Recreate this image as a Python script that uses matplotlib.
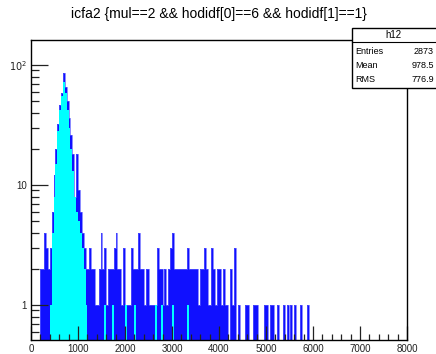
import numpy as np
import matplotlib
matplotlib.use('Agg')
import matplotlib.pyplot as plt
from matplotlib.patches import Rectangle
from matplotlib.ticker import FixedLocator, NullFormatter

plt.rcParams['font.family'] = ['Liberation Sans', 'DejaVu Sans']

# h12: 200 bins of width 40 over [0, 8000)
bin_width = 40
n_bins = 200

# counts for all entries (bins 0..149, rest empty)
blue_counts = [
    0, 0, 0, 0, 0, 2, 2, 4, 3, 2,
    3, 6, 12, 20, 32, 46, 58, 86, 66, 50,
    36, 26, 18, 8, 18, 9, 6, 4, 3, 2,
    2, 3, 2, 2, 1, 1, 2, 4, 2, 3,
    1, 2, 2, 2, 3, 4, 2, 2, 1, 3,
    1, 1, 1, 3, 2, 2, 2, 4, 2, 2,
    1, 2, 2, 1, 1, 1, 1, 3, 2, 2,
    1, 2, 1, 2, 3, 4, 2, 2, 2, 2,
    2, 2, 2, 3, 2, 2, 2, 2, 2, 1,
    2, 2, 3, 2, 1, 1, 3, 2, 1, 2,
    2, 1, 2, 1, 1, 0, 2, 1, 3, 0,
    1, 0, 0, 0, 1, 1, 0, 0, 1, 1,
    1, 0, 0, 0, 1, 1, 0, 1, 1, 0,
    0, 1, 0, 0, 1, 0, 1, 0, 1, 0,
    1, 0, 0, 1, 0, 0, 0, 1, 0, 0,
]

# counts passing the cut (bins 0..83)
cyan_counts = [
    0, 0, 0, 0, 0, 0, 0, 0, 0, 0,
    1, 4, 8, 15, 28, 42, 55, 72, 58, 42,
    30, 20, 13, 8, 6, 5, 4, 3, 2, 1,
    0, 0, 0, 0, 0, 0, 0, 0, 0, 1,
    0, 0, 0, 1, 0, 0, 0, 0, 0, 0,
    1, 0, 0, 0, 0, 1, 0, 0, 0, 0,
    0, 0, 0, 0, 0, 0, 1, 0, 0, 1,
    0, 0, 0, 0, 0, 1, 0, 0, 0, 0,
    0, 0, 0, 1,
]

stat_labels = ['Entries', 'Mean', 'RMS']
stat_values = ['2873', '978.5', '776.9']

blue = np.zeros(n_bins)
blue[:len(blue_counts)] = blue_counts
cyan = np.zeros(n_bins)
cyan[:len(cyan_counts)] = cyan_counts
edges = np.arange(n_bins + 1) * bin_width

W, H = 436, 354
fig = plt.figure(figsize=(W / 100, H / 100), dpi=100)
ax = fig.add_axes([31 / W, 1 - 340 / H, (407 - 31) / W, (340 - 40) / H])

ax.set_yscale('log')
ax.stairs(blue, edges, fill=True, baseline=0.1, color='#1010ff')
ax.stairs(blue, edges, baseline=0.1, color='#5a5aff', linewidth=0.5)
ax.stairs(cyan, edges, fill=True, baseline=0.1, color='#00ffff')

ax.set_xlim(0, 8000)
ax.set_ylim(0.511, 161.5)

ax.xaxis.set_major_locator(FixedLocator(np.arange(0, 8001, 1000)))
ax.xaxis.set_minor_locator(FixedLocator(np.arange(0, 8001, 200)))
ax.yaxis.set_major_locator(FixedLocator([1, 10, 100]))
minor_y = [m * 10 ** e for e in (-1, 0, 1, 2) for m in range(2, 10)]
ax.yaxis.set_minor_locator(FixedLocator(minor_y))
ax.yaxis.set_minor_formatter(NullFormatter())
ax.set_yticklabels(['1', '10', r'$10^2$'])
ax.set_xticklabels([str(v) for v in range(0, 8001, 1000)])

ax.tick_params(axis='both', which='both', direction='in', top=False, right=False,
               width=0.9, labelsize=7, colors='#222222')
ax.tick_params(axis='x', which='major', length=10, pad=3)
ax.tick_params(axis='x', which='minor', length=4)
ax.tick_params(axis='y', which='major', length=12, pad=3)
ax.tick_params(axis='y', which='minor', length=6)
for s in ax.spines.values():
    s.set_linewidth(1.0)
    s.set_zorder(4)

fig.text(219 / W, 1 - 14 / H, 'icfa2 {mul==2 && hodidf[0]==6 && hodidf[1]==1}',
         ha='center', va='center', fontsize=10)

# statistics box
box = Rectangle((351.5 / W, 1 - 88 / H), 120 / W, (88 - 27.5) / H,
                transform=fig.transFigure, facecolor='white', edgecolor='black',
                linewidth=1.0, zorder=5)
fig.add_artist(box)
fig.add_artist(plt.Line2D([351.5 / W, 1.1], [1 - 42 / H, 1 - 42 / H],
                          transform=fig.transFigure, color='black', linewidth=0.8, zorder=6))
fig.text(393 / W, 1 - 34.5 / H, 'h12', ha='center', va='center', fontsize=7, zorder=6)
for i, (lab, val) in enumerate(zip(stat_labels, stat_values)):
    y = 1 - (51 + i * 14.5) / H
    fig.text(355 / W, y, lab, ha='left', va='center', fontsize=6.5, zorder=6)
    fig.text(434 / W, y, val, ha='right', va='center', fontsize=6.5, zorder=6)

fig.savefig('out.png', dpi=100)
